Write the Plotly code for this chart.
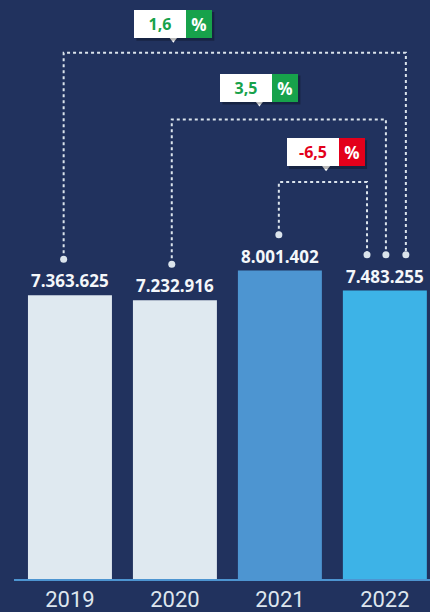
import plotly.graph_objects as go

# ---------------- data ----------------
years = ["2019", "2020", "2021", "2022"]
values = [7363625, 7232916, 8001402, 7483255]
value_labels = ["7.363.625", "7.232.916", "8.001.402", "7.483.255"]
bar_colors = ["#dfe9f0", "#dfe9f0", "#4d95d1", "#3db3e7"]

# comparisons (from year index -> to year index, change in %)
cmp_from = [0, 1, 2]
cmp_to = [3, 3, 3]
cmp_change = ["1,6", "3,5", "-6,5"]
cmp_color = ["#17a24b", "#17a24b", "#e3001b"]

# ---------------- layout constants ----------------
W, H = 430, 612
ML, MB = 14, 30
PLOT_H = H - MB
YMAX = 15.02e6
U = YMAX / PLOT_H                     # data units per pixel (y)
XMIN, XMAX = -0.533, 3.43
PXX = (W - ML) / (XMAX - XMIN)        # pixels per x unit

BG = "#21325e"
LINE_C = "#dbe4ec"


def yp(py):
    """page pixel row -> y data value"""
    return (PLOT_H - py) * U


def dx(px):
    """pixel width -> x data width"""
    return px / PXX


start_off = [-0.06, -0.03, -0.01]
end_off = [0.20, 0.01, -0.17]
level_py = [53, 120, 183]
box_cx = [0.985, 1.805, 2.44]
box_top_py = [10, 74, 139]
BOX_H = 28
WHITE_W, COL_W = 52, 26
DOT_LIFT = 36

fig = go.Figure()

fig.add_trace(go.Bar(
    x=list(range(len(years))), y=values, width=0.8,
    marker=dict(color=bar_colors, line=dict(width=0)),
    hoverinfo="skip",
))

shapes = []
annotations = []
dot_x, dot_y = [], []
tri_x, tri_y = [], []

for k in range(len(cmp_from)):
    i, j = cmp_from[k], cmp_to[k]
    x0 = i + start_off[k]
    x1 = j + end_off[k]
    y0 = values[i] + DOT_LIFT * U
    y1 = values[j] + DOT_LIFT * U
    yl = yp(level_py[k])
    shapes.append(dict(
        type="path", xref="x", yref="y",
        path=f"M {x0},{y0} L {x0},{yl} L {x1},{yl} L {x1},{y1}",
        line=dict(color=LINE_C, width=2, dash="3px,3px"),
    ))
    dot_x += [x0, x1]
    dot_y += [y0, y1]

    cx = box_cx[k]
    top = box_top_py[k]
    bot = top + BOX_H
    left = cx - dx((WHITE_W + COL_W) / 2)
    right = cx + dx((WHITE_W + COL_W) / 2)
    # shadow
    shapes.append(dict(
        type="rect", xref="x", yref="y",
        x0=left + dx(2), x1=right + dx(2), y0=yp(bot + 3), y1=yp(top + 2),
        fillcolor="rgba(0,0,0,0.28)", line=dict(width=0), layer="above",
    ))
    annotations.append(dict(
        x=left + dx(WHITE_W / 2), y=yp(top + BOX_H / 2), xref="x", yref="y",
        text=f"<b>{cmp_change[k]}</b>", showarrow=False,
        width=WHITE_W, height=BOX_H, bgcolor="#ffffff",
        borderpad=0, borderwidth=0,
        font=dict(family="Open Sans", size=16, color=cmp_color[k]),
    ))
    annotations.append(dict(
        x=left + dx(WHITE_W + COL_W / 2), y=yp(top + BOX_H / 2), xref="x", yref="y",
        text="<b>%</b>", showarrow=False,
        width=COL_W, height=BOX_H, bgcolor=cmp_color[k],
        borderpad=0, borderwidth=0,
        font=dict(family="Open Sans", size=17, color="#ffffff"),
    ))
    tri_x.append(cx)
    tri_y.append(yp(bot + 1))

fig.add_trace(go.Scatter(
    x=tri_x, y=tri_y, mode="markers",
    marker=dict(symbol="triangle-down", size=8, color="#ffffff"),
    hoverinfo="skip", cliponaxis=False,
))
fig.add_trace(go.Scatter(
    x=dot_x, y=dot_y, mode="markers",
    marker=dict(symbol="circle", size=7, color=LINE_C),
    hoverinfo="skip", cliponaxis=False,
))

for i, v in enumerate(values):
    annotations.append(dict(
        x=i, y=v, xref="x", yref="y", yanchor="bottom", yshift=1,
        text=value_labels[i], showarrow=False,
        font=dict(family="Open Sans", size=17, color="#f4f7fa", weight=700),
    ))

fig.update_layout(
    width=W, height=H,
    margin=dict(l=ML, r=0, t=0, b=MB, pad=0),
    paper_bgcolor=BG, plot_bgcolor=BG,
    showlegend=False,
    shapes=shapes, annotations=annotations,
    xaxis=dict(
        range=[XMIN, XMAX], tickvals=list(range(len(years))), ticktext=years,
        showgrid=False, zeroline=False, showline=True,
        linecolor="#4d95d1", linewidth=2, ticks="",
        tickfont=dict(family="Roboto", size=22, color="#dde6ee"),
        fixedrange=True,
    ),
    yaxis=dict(
        range=[0, YMAX], visible=False, showgrid=False, zeroline=False,
        fixedrange=True,
    ),
)

fig.write_html(
    "out.html",
    config={"displayModeBar": False},
    post_script="document.body.style.margin='0';document.body.style.overflow='hidden';",
)
